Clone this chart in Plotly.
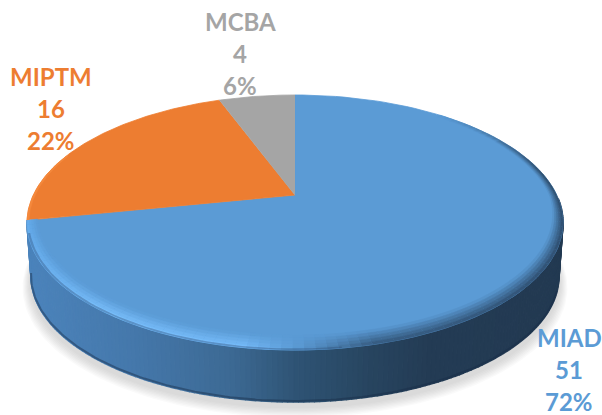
import numpy as np
import plotly.graph_objects as go

categories = ["MIAD", "MIPTM", "MCBA"]
values = [51, 16, 4]
percent_labels = ["72%", "22%", "6%"]
colors = ["#5B9BD5", "#ED7D31", "#A5A5A5"]
label_anchor = [(569, 337), (51, 76), (240, 21)]
LINE_GAP = 32

W, H = 602, 415
X0, Y0 = 295.0, 195.0   # projected pie centre
A, B, K = 261.7, 121.6, 0.2157   # projection of the unit disc
DEPTH, BOTTOM_SCALE = 54.3, 0.985


def project(theta, r=1.0, z=0.0, scale=1.0):
    u = r * np.sin(theta)
    v = -r * np.cos(theta)
    w = 1 - K * v
    return X0 + scale * A * u / w, Y0 + scale * B * v / w + z


def hex_rgb(h):
    return np.array([int(h[i:i + 2], 16) for i in (1, 3, 5)], float)


def mix(stops, t):
    ts = [s[0] for s in stops]
    cs = np.array([hex_rgb(s[1]) for s in stops])
    c = [np.interp(t, ts, cs[:, i]) for i in range(3)]
    return "rgb(%d,%d,%d)" % tuple(c)


fig = go.Figure()


def poly(x, y, color, lw=0.8):
    fig.add_trace(go.Scatter(x=list(x), y=list(y), mode="lines", fill="toself", fillcolor=color,
                             line=dict(color=color, width=lw), hoverinfo="skip", showlegend=False))


total = sum(values)
edges = 2 * np.pi * np.cumsum([0] + values) / total
full = np.linspace(0, 2 * np.pi, 241)

# soft drop shadow
for i in range(8):
    grow = 1.0 + 0.004 * (8 - i)
    x, y = project(full, 1.0, DEPTH + 5 + (8 - i) * 0.7, BOTTOM_SCALE * grow)
    poly(x, y, "rgba(120,120,120,0.04)", 0)

# side wall of the first slice, shaded from left to right
wall_stops = [(0, "#4C84BC"), (0.2, "#4578AB"), (0.38, "#3D6A94"), (0.5, "#2F5475"),
              (0.64, "#284560"), (0.75, "#243C55"), (1, "#233A52")]
wall_t = np.linspace(1.6, edges[1], 180)
for t0, t1 in zip(wall_t[:-1], wall_t[1:]):
    seg = np.linspace(t0, t1, 3)
    xt, yt = project(seg)
    xb, yb = project(seg[::-1], 1.0, DEPTH, BOTTOM_SCALE)
    frac = (xt.mean() - 27) / (564 - 27)
    poly(np.r_[xt, xb], np.r_[yt, yb], mix(wall_stops, frac), 1.5)

# dark seam along the lower edge of the wall
seam = wall_t[(wall_t > 1.9)]
xb, yb = project(seam, 1.0, DEPTH - 1, BOTTOM_SCALE)
fig.add_trace(go.Scatter(x=xb, y=yb, mode="lines", line=dict(color="rgba(25,45,70,0.45)", width=2),
                         hoverinfo="skip", showlegend=False))

# top faces
for i, c in enumerate(colors):
    seg = np.linspace(edges[i], edges[i + 1], 120)
    x, y = project(seg)
    poly(np.r_[X0, x], np.r_[Y0, y], c)

# bevel on the rim of the top face
rim_stops = [(0, "#5B9BD5"), (0.7, "#5B9BD5"), (1.35, "#2B4763"), (2.0, "#2E4C6C"), (2.9, "#35587C"),
             (3.14, "#5B9BD5"), (3.3, "#78BEFC"), (3.8, "#7CC2FF"), (4.2, "#6EB5F5"), (4.52, "#66ADEE")]
levels = [1.0, 0.8, 0.6, 0.4, 0.2, 0.0]


def rim_width(theta):
    return 0.028 + 0.05 * np.maximum(0.0, -np.cos(theta))


rim_t = np.linspace(0.7, edges[1], 110)
base = hex_rgb("#5B9BD5")
for f0, f1 in zip(levels[:-1], levels[1:]):
    amount = 1 - (f0 + f1) / 2
    stops = [(s, "#%02X%02X%02X" % tuple(int(v) for v in (base + (hex_rgb(c) - base) * amount)))
             for s, c in rim_stops]
    for t0, t1 in zip(rim_t[:-1], rim_t[1:]):
        pair = np.array([t0, t1])
        xa, ya = project(pair, 1 - f0 * rim_width(pair))
        xc, yc = project(pair[::-1], 1 - f1 * rim_width(pair[::-1]))
        poly(np.r_[xa, xc], np.r_[ya, yc], mix(stops, (t0 + t1) / 2), 0.5)

# soft transition from the highlight into the wall
seg = np.linspace(3.0, edges[1] - 0.1, 80)
xo, yo = project(seg, 0.992)
xi, yi = project(seg[::-1], 1.0)
poly(np.r_[xo, xi], np.r_[yo, yi], "rgba(40,70,110,0.35)", 0)

# orange rim highlight
seg = np.linspace(edges[1], edges[1] + 0.55, 40)
xo, yo = project(seg, 0.993)
xi, yi = project(seg[::-1], 1.0)
poly(np.r_[xo, xi], np.r_[yo, yi], "#F5893C", 0.5)

annotations = []
for name, val, pct, col, (ax, ay) in zip(categories, values, percent_labels, colors, label_anchor):
    for j, line in enumerate([name, val, pct]):
        annotations.append(dict(x=ax, y=ay + j * LINE_GAP, xref="x", yref="y", showarrow=False,
                                xanchor="center", yanchor="middle", text=f"<b>{line}</b>",
                                font=dict(family="Lato", size=24, color=col)))

fig.update_layout(
    width=W, height=H, margin=dict(l=0, r=0, t=0, b=0), autosize=False,
    paper_bgcolor="white", plot_bgcolor="white", showlegend=False,
    xaxis=dict(range=[0, W], visible=False, fixedrange=True),
    yaxis=dict(range=[H, 0], visible=False, fixedrange=True),
    annotations=annotations,
)
fig.write_html("out.html", config={"displayModeBar": False},
               post_script="document.body.style.margin='0';document.body.style.overflow='hidden';")
